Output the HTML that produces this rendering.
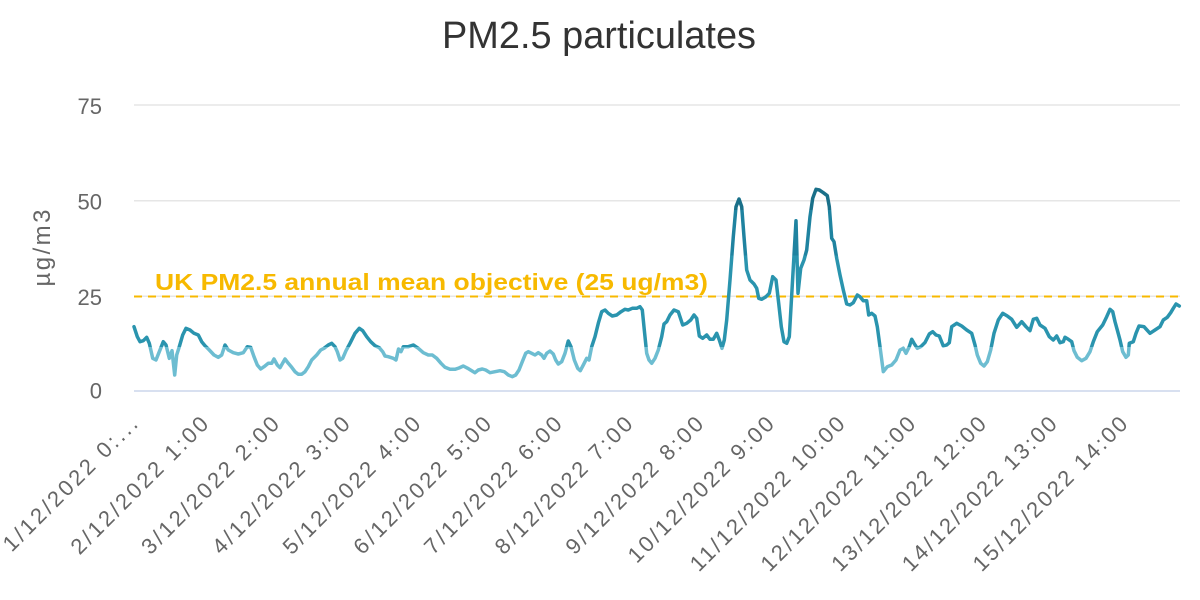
<!DOCTYPE html>
<html>
<head>
<meta charset="utf-8">
<style>
  html,body{margin:0;padding:0;background:#fff;}
  svg{display:block;}
  text{font-family:"Liberation Sans", "DejaVu Sans", sans-serif;}
</style>
</head>
<body>
<svg width="1200" height="600" viewBox="0 0 1200 600" xmlns="http://www.w3.org/2000/svg">
  <defs>
    <linearGradient id="zones" gradientUnits="userSpaceOnUse" x1="0" y1="391" x2="0" y2="105">
      <stop offset="0" stop-color="#6dbdd1"/>
      <stop offset="0.1533" stop-color="#6dbdd1"/>
      <stop offset="0.1533" stop-color="#2a94ae"/>
      <stop offset="0.473" stop-color="#2a94ae"/>
      <stop offset="0.473" stop-color="#1f83a0"/>
      <stop offset="0.633" stop-color="#1f83a0"/>
      <stop offset="0.633" stop-color="#1a7089"/>
      <stop offset="1" stop-color="#1a7089"/>
    </linearGradient>
  </defs>
  <rect width="1200" height="600" fill="#ffffff"/>

  <!-- Title -->
  <text x="442" y="48" font-size="38" fill="#333333" textLength="314" lengthAdjust="spacingAndGlyphs">PM2.5 particulates</text>

  <!-- Grid lines -->
  <line x1="134" y1="105" x2="1180" y2="105" stroke="#e6e6e6" stroke-width="1.5"/>
  <line x1="134" y1="200.7" x2="1180" y2="200.7" stroke="#e6e6e6" stroke-width="1.5"/>
  <line x1="134" y1="296.3" x2="1180" y2="296.3" stroke="#e6e6e6" stroke-width="1.5"/>
  <line x1="134" y1="391" x2="1180" y2="391" stroke="#ccd6eb" stroke-width="1.5"/>

  <!-- Y axis labels -->
  <g font-size="22" fill="#666666" text-anchor="end">
    <text x="102" y="114">75</text>
    <text x="102" y="209.5">50</text>
    <text x="102" y="305">25</text>
    <text x="102" y="398.5">0</text>
  </g>

  <!-- Y axis title -->
  <text transform="translate(50,248) rotate(-90)" font-size="24" fill="#666666" text-anchor="middle" textLength="77" lengthAdjust="spacing">µg/m3</text>

  <!-- Objective line -->
  <line x1="134" y1="296.5" x2="1178" y2="296.5" stroke="#f7b900" stroke-width="2" stroke-dasharray="8,6"/>
  <text x="155" y="290" font-size="23" font-weight="bold" fill="#f7b900" textLength="553" lengthAdjust="spacingAndGlyphs">UK PM2.5 annual mean objective (25 ug/m3)</text>

  <!-- Series -->
  <polyline fill="none" stroke="url(#zones)" stroke-width="3.5" stroke-linejoin="round" stroke-linecap="round" points="
134,326.7 137.3,336.7 140,341.7 143.3,340.7 146.7,337.3 149.3,343.3 152.7,358.3 156,360 159.3,351.7 163.3,341.7 166,345 169.3,358.3 172,350.7 174.7,375 176.7,355 179.3,346.7 182.7,335 186,328.3 190,330 194,333.3 198.3,335 201.7,341.7 205,345.7 209.3,350 214,355 218.3,357.3 221.7,355 225,345 228.3,350 233.3,352.7 238.3,354 243.3,352.7 247.3,346.7 250.7,347.3 254,356.7 257.3,365 260.7,369 264,366.7 268.3,363.3 271.7,363.3 274,359 277.3,365 280,367.7 285,359 288.3,363.3 291.7,367.3 295,371.7 298.3,374.3 301.7,374.3 305,371.7 308.3,366.7 311.7,360 316.7,355 320.7,350 324,348.3 328.3,345 331.7,343.3 335,346.7 337.3,351.7 340,360 342.7,358.3 346,350.7 350,343.3 355,333.3 359.3,328.3 362.7,330.7 366.7,336.7 370.7,341.7 375,345.7 379.3,347.7 382.7,351.7 385,356 388.3,356.7 393.3,358.3 396,360 398.5,349 401,351.7 403.3,346.7 408.3,346.7 413.3,345 418.3,348.3 423.3,352.7 428.3,355 432.3,355 436.7,358.3 441,363.3 445,367.3 450,369.3 455,369.3 459,368 463.3,366 467.7,368.3 471.7,370.7 475,372.7 478.3,370 482.3,369 485.7,370 490,372.7 495,371.7 500,370.7 504.3,371.7 508.3,375 512.3,376.7 515.7,375 519,370 522.3,361.7 525.7,353.3 528.3,351.7 531.7,353.3 535,355 538.3,352.7 541.7,355 544,358.3 546.7,353.3 550,351 553.3,354 555.7,360 558.3,364 561.7,361.7 565,353.3 568.3,341 571,346.7 574.3,360 577.7,368.3 580.3,370.7 583.3,365 586.7,358.3 589,360 591.7,346.7 595,336.7 598.3,323.3 601.7,311.7 605,310 608.3,313.3 612.3,316 616.7,315 621,311.7 625,309.3 628.3,310 632.3,308.3 636.7,308.3 640,306.7 642.3,310 644.3,330 646.7,353.3 649,360 651.7,363.3 655,358.3 658.3,350 661.7,336.7 664,324 666.7,321.7 670,315 674,310 678.3,311.7 682.7,325 686.7,323.3 690.7,320 694,315 696.7,318.3 699.3,336 702.7,338.3 706.7,335 710,339.3 713.3,339.3 716.7,333.3 719.3,340 722,348.3 724.3,340 726.7,320 730,280 733.3,236.7 736,206.7 739,199 741.7,206.7 744,236.7 746.7,270 750,280 754,284 756.7,288.3 758.7,298.3 761.7,299.3 766,296.7 769.3,293.3 772.7,276.7 776,280 778.7,303.3 781.3,326.7 784,341.7 786.7,343.3 789.3,336.7 792,290 796,220.7 798,293.3 800.7,268.3 804,260 806.7,250 810,216.7 812.7,198.3 816,189.3 819.3,190 823.3,192.7 827.3,195.7 829.3,206.7 831.7,238.3 834,241.7 836.7,258.3 840,275 843.3,290 846.7,304 850,305 853.3,302.7 857.3,295 860,296.7 863.3,300.7 866.7,300.7 868.7,315 871.7,313.3 875,316 877.3,326.7 880,346.7 883.3,371.7 887.3,366.7 891.7,365 896,360 900,350 903.3,348.3 906,353.3 909.3,346.7 911.7,339.3 914,343.3 917.3,348.3 920.7,346.7 925,342.5 929.3,334 932.7,331.7 936,335 939.3,336 943.3,346 946.7,345 949.3,342.7 951.7,326.7 956.7,323.3 961.7,326 966.7,330 971.7,333.3 975,345 977.3,355 980.7,363.3 984,366 987.3,361.7 990.7,350 994,333.3 998.3,320 1002.7,313.3 1007.3,316 1011.7,319.3 1016.7,327.3 1021.7,321.7 1026,326.7 1030,330.7 1033.3,319.3 1036.7,318.3 1040,325 1045,328.3 1049.3,336.7 1053.3,340 1056.7,336 1060,342.7 1063.3,341.7 1065,337.3 1068.3,339.3 1071.7,341.7 1074,350.7 1077.3,357.3 1081.7,360.7 1086,358.3 1090,351.7 1093.3,341.7 1097.3,331.7 1102.7,325 1106.7,316.7 1110,309.3 1112.7,311.7 1115,321.7 1117.3,330 1120,340 1122.7,351.7 1126,357.3 1128.3,355 1129.3,343.3 1133.3,341.7 1136,333.3 1139,326 1144,326.7 1150,333.3 1155,330 1160,326.7 1163.3,320 1167.3,317.3 1170.7,312.7 1173.3,308.3 1176,304 1179.3,306"/>

  <!-- X axis labels -->
  <g font-size="22" fill="#666666" text-anchor="end">
    <text transform="translate(139,425.5) rotate(-45)" textLength="180" lengthAdjust="spacing">1/12/2022 0:...</text>
    <text transform="translate(209.7,425.5) rotate(-45)" textLength="184" lengthAdjust="spacing">2/12/2022 1:00</text>
    <text transform="translate(280.4,425.5) rotate(-45)" textLength="184" lengthAdjust="spacing">3/12/2022 2:00</text>
    <text transform="translate(351.1,425.5) rotate(-45)" textLength="184" lengthAdjust="spacing">4/12/2022 3:00</text>
    <text transform="translate(421.8,425.5) rotate(-45)" textLength="184" lengthAdjust="spacing">5/12/2022 4:00</text>
    <text transform="translate(492.5,425.5) rotate(-45)" textLength="184" lengthAdjust="spacing">6/12/2022 5:00</text>
    <text transform="translate(563.2,425.5) rotate(-45)" textLength="184" lengthAdjust="spacing">7/12/2022 6:00</text>
    <text transform="translate(633.9,425.5) rotate(-45)" textLength="184" lengthAdjust="spacing">8/12/2022 7:00</text>
    <text transform="translate(704.6,425.5) rotate(-45)" textLength="184" lengthAdjust="spacing">9/12/2022 8:00</text>
    <text transform="translate(775.3,425.5) rotate(-45)" textLength="196" lengthAdjust="spacing">10/12/2022 9:00</text>
    <text transform="translate(846,425.5) rotate(-45)" textLength="208" lengthAdjust="spacing">11/12/2022 10:00</text>
    <text transform="translate(916.7,425.5) rotate(-45)" textLength="208" lengthAdjust="spacing">12/12/2022 11:00</text>
    <text transform="translate(987.4,425.5) rotate(-45)" textLength="208" lengthAdjust="spacing">13/12/2022 12:00</text>
    <text transform="translate(1058.1,425.5) rotate(-45)" textLength="208" lengthAdjust="spacing">14/12/2022 13:00</text>
    <text transform="translate(1128.8,425.5) rotate(-45)" textLength="208" lengthAdjust="spacing">15/12/2022 14:00</text>
  </g>
</svg>
</body>
</html>
